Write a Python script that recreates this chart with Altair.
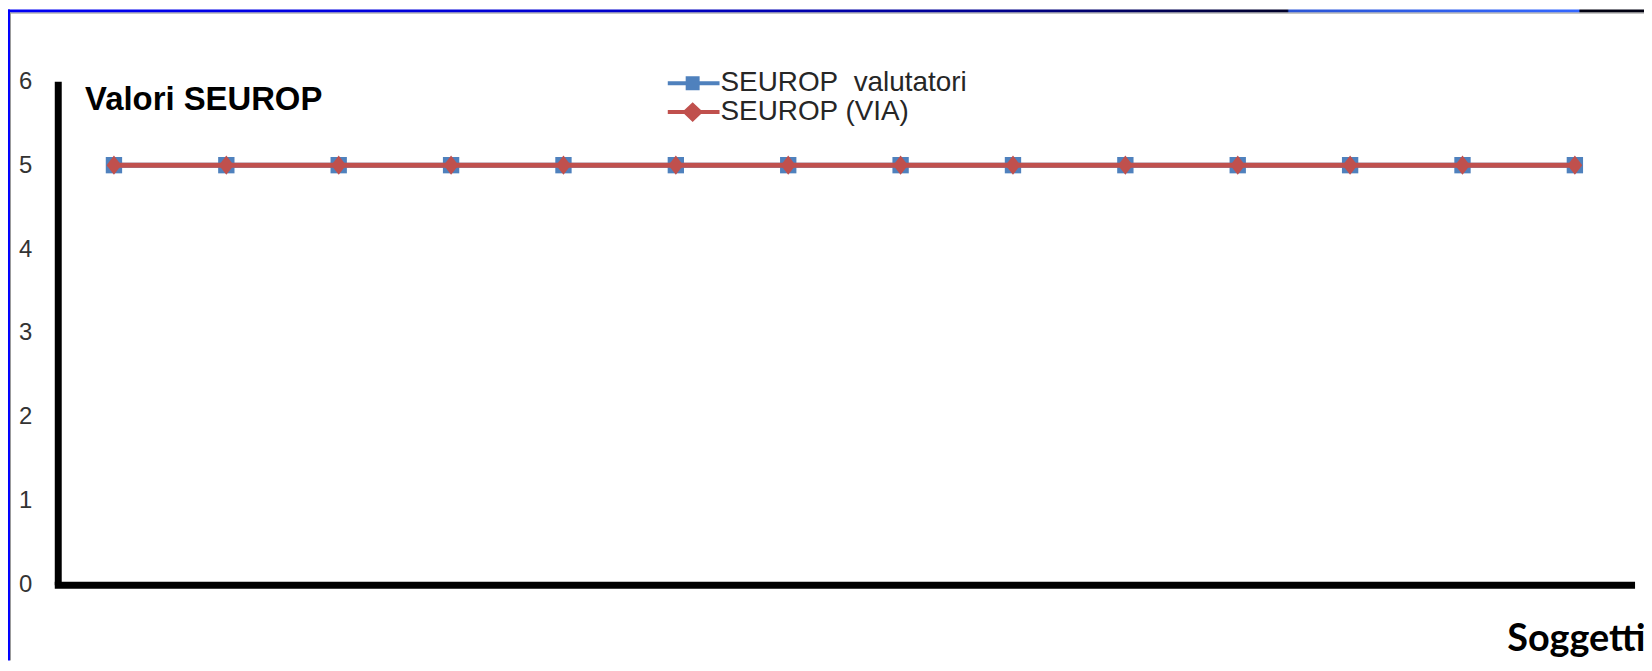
import altair as alt
import pandas as pd

# ---- data ----
soggetti = ["1", "2", "3", "4", "5", "6", "7", "8", "9", "10", "11", "12", "13", "14"]
seurop_valutatori = [5, 5, 5, 5, 5, 5, 5, 5, 5, 5, 5, 5, 5, 5]
seurop_via = [5, 5, 5, 5, 5, 5, 5, 5, 5, 5, 5, 5, 5, 5]
series = ["SEUROP\u00a0\u00a0valutatori", "SEUROP (VIA)"]
colors = ["#4F81BD", "#C0504D"]
y_ticks = [0, 1, 2, 3, 4, 5, 6]

rows = []
for s, vals in zip(series, [seurop_valutatori, seurop_via]):
    for k, v in zip(soggetti, vals):
        rows.append({"Soggetto": k, "Valore": v, "Serie": s})
df = pd.DataFrame(rows)

W, H = 1581, 506

x_enc = alt.X(
    "Soggetto:N",
    sort=soggetti,
    scale=alt.Scale(type="point", padding=0.5, domain=soggetti),
    axis=alt.Axis(
        labels=False, ticks=False, grid=False,
        domainColor="black", domainWidth=7, domainCap="square",
        title="Soggetti", titleFont="Lato", titleFontWeight="bold",
        titleFontSize=38, titleColor="black",
        titleX=W + 14, titleY=66, titleAlign="right", titleBaseline="alphabetic",
        titleAnchor="end",
    ),
)
y_enc = alt.Y(
    "Valore:Q",
    scale=alt.Scale(domain=[0, 6], nice=False, zero=True),
    axis=alt.Axis(
        values=y_ticks, ticks=False, grid=False,
        domainColor="black", domainWidth=7,
        labelFont="Liberation Sans", labelFontSize=24, labelColor="#333333",
        labelPadding=26, labelBaseline="middle",
        title="Valori SEUROP", titleAngle=0, titleFont="Liberation Sans",
        titleFontWeight="bold", titleFontSize=33, titleColor="black",
        titleX=27, titleY=28, titleAlign="left", titleBaseline="alphabetic",
    ),
)

base = alt.Chart(df).encode(x=x_enc, y=y_enc)

blue_line = base.transform_filter(alt.datum.Serie == series[0]).mark_line(
    color=colors[0], strokeWidth=5)
blue_pts = base.transform_filter(alt.datum.Serie == series[0]).mark_point(
    shape="square", filled=True, size=270, color=colors[0], opacity=1)
red_line = base.transform_filter(alt.datum.Serie == series[1]).mark_line(
    color=colors[1], strokeWidth=5)
red_pts = base.transform_filter(alt.datum.Serie == series[1]).mark_point(
    shape="M0,-1.2L0.93,0L0,1.2L-0.93,0Z", filled=True, size=256,
    color=colors[1], opacity=1)

# legend symbols: line stub + marker, drawn left of the 20px symbol box
# (unit = 10px because symbolSize = 400)
leg_square = "M-3.7,-0.2H1.5V0.2H-3.7Z M-1.9,-0.7H-0.5V0.7H-1.9Z"
leg_diamond = "M-3.7,-0.2H1.5V0.2H-3.7Z M-1.2,-1L-0.15,0L-1.2,1L-2.25,0Z"

leg = alt.Legend(
    title=None, orient="none", legendX=636, legendY=-12,
    labelFont="Liberation Sans", labelFontSize=28, labelColor="#262626",
    labelOffset=2, labelLimit=500, symbolSize=400, symbolStrokeWidth=0,
    symbolOpacity=1, rowPadding=1, padding=0,
)
legend_layer = base.transform_filter("false").mark_point(
    filled=True, size=400, opacity=1, strokeWidth=0).encode(
    color=alt.Color("Serie:N", scale=alt.Scale(domain=series, range=colors), legend=leg),
    shape=alt.Shape("Serie:N", scale=alt.Scale(domain=series, range=[leg_square, leg_diamond]), legend=leg),
)

# slide frame decoration (blue band at top/left)
deco_df = pd.DataFrame({"k": [0]})
grad = alt.LinearGradient(
    gradient="linear", x1=0, x2=1, y1=0, y2=0,
    stops=[
        alt.GradientStop(offset=0, color="#0000F5"),
        alt.GradientStop(offset=0.35, color="#0000D0"),
        alt.GradientStop(offset=0.6, color="#000090"),
        alt.GradientStop(offset=0.77, color="#000030"),
        alt.GradientStop(offset=0.782, color="#00002A"),
        alt.GradientStop(offset=0.783, color="#2B55D5"),
        alt.GradientStop(offset=0.96, color="#3366FF"),
        alt.GradientStop(offset=0.961, color="#000010"),
        alt.GradientStop(offset=1, color="#000010"),
    ],
)
top_band = alt.Chart(deco_df).mark_rect(color=grad).encode(
    x=alt.value(-50), x2=alt.value(W + 13), y=alt.value(-72), y2=alt.value(-69))
left_band = alt.Chart(deco_df).mark_rect(color="#0000FF").encode(
    x=alt.value(-50), x2=alt.value(-48), y=alt.value(-72), y2=alt.value(H + 76))
top_border = alt.Chart(deco_df).mark_rule(color="#999999", strokeWidth=1).encode(
    x=alt.value(-48), x2=alt.value(W + 13), y=alt.value(-68.5))
left_border = alt.Chart(deco_df).mark_rule(color="#999999", strokeWidth=1).encode(
    x=alt.value(-47.5), y=alt.value(-69), y2=alt.value(H + 76))

chart = alt.layer(
    top_band, left_band, top_border, left_border,
    blue_line, blue_pts, red_line, red_pts, legend_layer,
).properties(
    width=W, height=H,
    autosize="none",
    padding={"left": 50, "top": 72, "right": 13, "bottom": 76},
    background="white",
).configure_view(strokeWidth=0)

chart.save("out.html", embed_options={"renderer": "svg", "actions": False})
